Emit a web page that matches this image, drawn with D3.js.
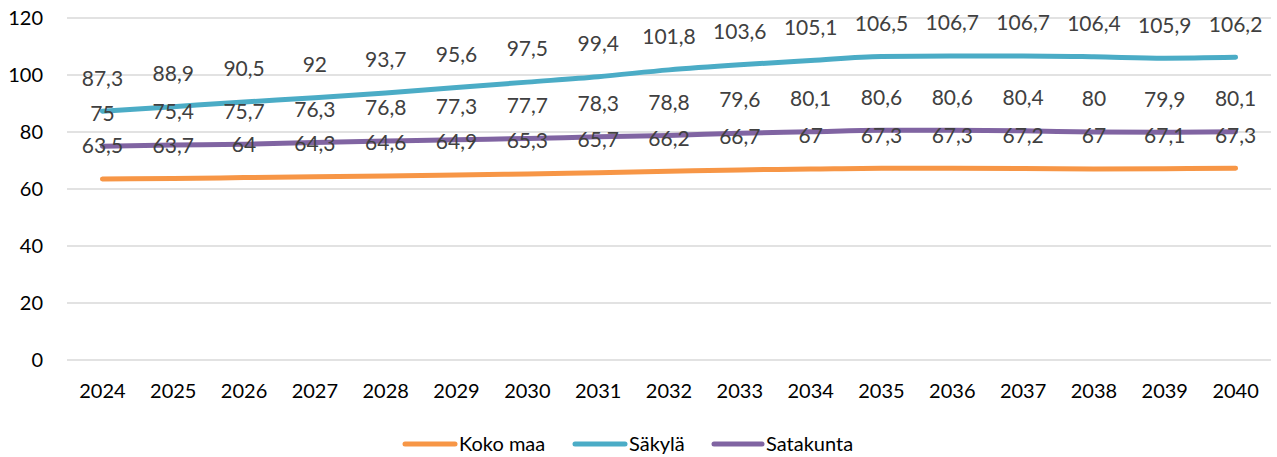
<!DOCTYPE html>
<html>
<head>
<meta charset="utf-8">
<script src="https://cdn.jsdelivr.net/npm/d3@7"></script>
<style>
  body { margin: 0; background: #fff; }
  svg { font-family: Lato, "Open Sans", sans-serif; }
</style>
</head>
<body>
<svg id="chart"></svg>
<script>
const years = ["2024","2025","2026","2027","2028","2029","2030","2031","2032","2033","2034","2035","2036","2037","2038","2039","2040"];
const kokoMaa = [63.5, 63.7, 64, 64.3, 64.6, 64.9, 65.3, 65.7, 66.2, 66.7, 67, 67.3, 67.3, 67.2, 67, 67.1, 67.3];
const sakyla = [87.3, 88.9, 90.5, 92, 93.7, 95.6, 97.5, 99.4, 101.8, 103.6, 105.1, 106.5, 106.7, 106.7, 106.4, 105.9, 106.2];
const satakunta = [75, 75.4, 75.7, 76.3, 76.8, 77.3, 77.7, 78.3, 78.8, 79.6, 80.1, 80.6, 80.6, 80.4, 80, 79.9, 80.1];
const yTicks = [0, 20, 40, 60, 80, 100, 120];

const series = [
  { name: "Koko maa", values: kokoMaa, color: "#F79646" },
  { name: "Säkylä", values: sakyla, color: "#4BACC6" },
  { name: "Satakunta", values: satakunta, color: "#8064A2" }
];

const width = 1277, height = 457;
const svg = d3.select("#chart").attr("width", width).attr("height", height);

const x = d3.scaleBand().domain(years).range([67, 1271]);
const y = d3.scaleLinear().domain([0, 120]).range([360, 18]);
const cx = d => x(d) + x.bandwidth() / 2;

// gridlines
svg.append("g").selectAll("line")
  .data(yTicks)
  .join("line")
  .attr("x1", 67).attr("x2", 1271)
  .attr("y1", d => y(d)).attr("y2", d => y(d))
  .attr("stroke", "#d9d9d9").attr("stroke-width", 1.5);

// y axis labels
svg.append("g").selectAll("text")
  .data(yTicks)
  .join("text")
  .attr("x", 43).attr("y", d => y(d)).attr("dy", "0.35em")
  .attr("text-anchor", "end")
  .attr("font-size", 20).attr("fill", "#000")
  .text(d => d);

// x axis labels
svg.append("g").selectAll("text")
  .data(years)
  .join("text")
  .attr("x", d => cx(d)).attr("y", 391).attr("dy", "0.35em")
  .attr("text-anchor", "middle")
  .attr("font-size", 20).attr("fill", "#000")
  .text(d => d);

const line = d3.line()
  .x((d, i) => cx(years[i]))
  .y(d => y(d))
  .curve(d3.curveMonotoneX);

const fmt = v => String(v).replace(".", ",");

series.forEach(s => {
  svg.append("path")
    .datum(s.values)
    .attr("d", line)
    .attr("fill", "none")
    .attr("stroke", s.color)
    .attr("stroke-width", 5)
    .attr("stroke-linecap", "round")
    .attr("stroke-linejoin", "round");
});

// data labels (drawn after lines so they sit on top)
series.forEach(s => {
  svg.append("g").selectAll("text")
    .data(s.values)
    .join("text")
    .attr("x", (d, i) => cx(years[i]))
    .attr("y", d => y(d) - 33)
    .attr("dy", "0.35em")
    .attr("text-anchor", "middle")
    .attr("font-size", 21)
    .attr("fill", "#404040")
    .text(d => fmt(d));
});

// legend
const legendItems = [
  { s: series[0], x1: 405, x2: 455, tx: 459 },
  { s: series[1], x1: 575, x2: 625, tx: 629 },
  { s: series[2], x1: 714, x2: 762, tx: 766 }
];
const legend = svg.append("g");
legend.selectAll("line")
  .data(legendItems)
  .join("line")
  .attr("x1", d => d.x1).attr("x2", d => d.x2)
  .attr("y1", 444).attr("y2", 444)
  .attr("stroke", d => d.s.color)
  .attr("stroke-width", 5)
  .attr("stroke-linecap", "round");
legend.selectAll("text")
  .data(legendItems)
  .join("text")
  .attr("x", d => d.tx).attr("y", 444).attr("dy", "0.35em")
  .attr("font-size", 20).attr("fill", "#000")
  .text(d => d.s.name);
</script>
</body>
</html>
